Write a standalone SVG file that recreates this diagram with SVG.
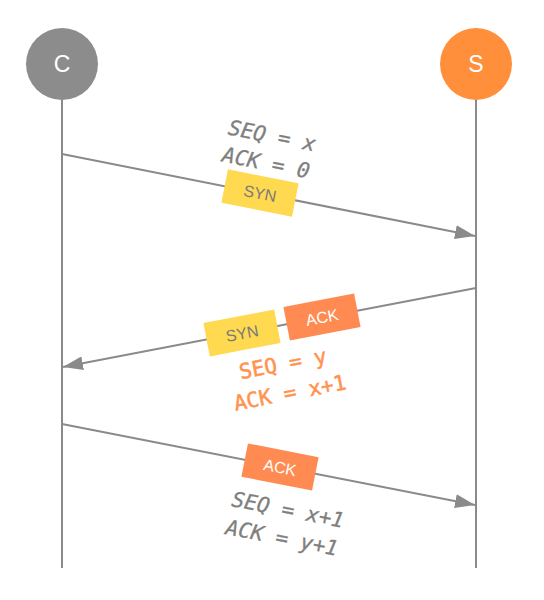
<svg xmlns="http://www.w3.org/2000/svg" width="544" height="600" viewBox="0 0 544 600">
<style>
.life{stroke:#8a8a8a;stroke-width:2;fill:none}
.msg{stroke:#8a8a8a;stroke-width:2;fill:none;marker-end:url(#ah)}
.node-label{font-family:"Liberation Sans",Arial,sans-serif;font-size:23px;fill:#ffffff;text-anchor:middle}
.lbl{font-family:"DejaVu Sans Mono",monospace;font-size:21px;text-anchor:middle}
.gray{fill:#7f7f7f;stroke:#7f7f7f;stroke-width:0.3;font-style:italic}
.orange{fill:#ff9350;stroke:#ff9350;stroke-width:0.5}
.tag{font-family:"Liberation Sans",Arial,sans-serif;font-size:16px;text-anchor:middle}
.syn rect{fill:#ffd94f}
.syn text{fill:#7a7a7a}
.ack rect{fill:#ff8b52}
.ack text{fill:#ffffff}
</style>
<defs>
<marker id="ah" markerUnits="userSpaceOnUse" markerWidth="20" markerHeight="14" refX="20" refY="7" orient="auto">
<path d="M0,0 L20,7 L0,14 z" fill="#8a8a8a"/>
</marker>
</defs>
<g id="lifelines">
<line class="life" x1="62" y1="98" x2="62" y2="568"/>
<line class="life" x1="476" y1="98" x2="476" y2="568"/>
</g>
<g id="connectors">
<line class="msg" x1="62" y1="154" x2="475" y2="236"/>
<line class="msg" x1="476" y1="288" x2="63" y2="367"/>
<line class="msg" x1="62" y1="424" x2="475" y2="505"/>
</g>
<g id="node-C">
<circle cx="62" cy="64" r="36" fill="#8c8c8c"/>
<text class="node-label" x="62" y="72">C</text>
</g>
<g id="node-S">
<circle cx="476" cy="64" r="36" fill="#ff8f3a"/>
<text class="node-label" x="476" y="72">S</text>
</g>
<g id="label-1">
<text class="lbl gray" transform="translate(272,136) rotate(11.2)" y="7">SEQ = x</text>
<text class="lbl gray" transform="translate(266,163) rotate(11.2)" y="7">ACK = 0</text>
</g>
<g id="tag-syn-1" class="syn" transform="translate(260,193) rotate(11.2)">
<rect x="-36" y="-17" width="72" height="34"/>
<text class="tag" y="6">SYN</text>
</g>
<g id="tag-syn-2" class="syn" transform="translate(242,333) rotate(-10.9)">
<rect x="-36" y="-17" width="72" height="34"/>
<text class="tag" y="6">SYN</text>
</g>
<g id="tag-ack-2" class="ack" transform="translate(322,317) rotate(-10.9)">
<rect x="-36" y="-17" width="72" height="34"/>
<text class="tag" y="6">ACK</text>
</g>
<g id="label-2">
<text class="lbl orange" transform="translate(283,364) rotate(-10.9)" y="7">SEQ = y</text>
<text class="lbl orange" transform="translate(290,393) rotate(-10.9)" y="7">ACK = x+1</text>
</g>
<g id="tag-ack-3" class="ack" transform="translate(280,467) rotate(11.1)">
<rect x="-36" y="-17" width="72" height="34"/>
<text class="tag" y="6">ACK</text>
</g>
<g id="label-3">
<text class="lbl gray" transform="translate(288,510) rotate(11.1)" y="7">SEQ = x+1</text>
<text class="lbl gray" transform="translate(282,538) rotate(11.1)" y="7">ACK = y+1</text>
</g>
</svg>
